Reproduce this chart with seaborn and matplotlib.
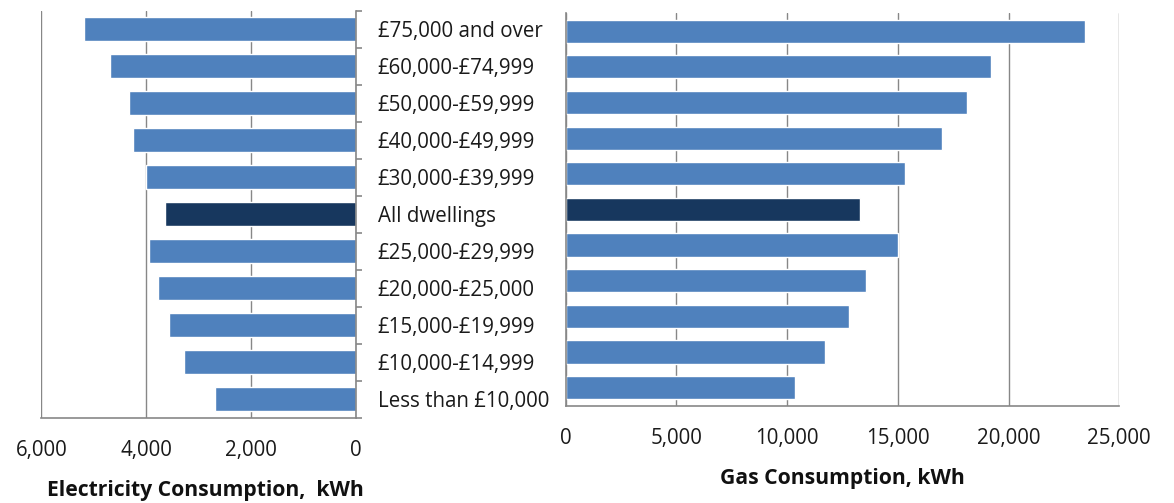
import matplotlib
matplotlib.use("Agg")
import matplotlib.pyplot as plt
from matplotlib.ticker import FixedLocator, StrMethodFormatter
import numpy as np
import pandas as pd
import seaborn as sns

# Household income bands, top to bottom
bands = [
    "£75,000 and over",
    "£60,000-£74,999",
    "£50,000-£59,999",
    "£40,000-£49,999",
    "£30,000-£39,999",
    "All dwellings",
    "£25,000-£29,999",
    "£20,000-£25,000",
    "£15,000-£19,999",
    "£10,000-£14,999",
    "Less than £10,000",
]

# Mean annual consumption per dwelling, kWh
electricity_kwh = [5190, 4690, 4330, 4250, 4000, 3640, 3950, 3780, 3570, 3280, 2690]
gas_kwh = [23460, 19220, 18120, 17010, 15330, 13290, 15000, 13560, 12800, 11720, 10360]

elec_ticks = [6000, 4000, 2000, 0]
gas_ticks = [0, 5000, 10000, 15000, 20000, 25000]

BAR = "#4F81BD"
HIGHLIGHT = "#17375E"
GRID = "#878787"
TEXT = "#1a1a1a"
TICK_FS = 14.8
LABEL_FS = 15.2

sns.set_theme(style="white")
plt.rcParams["font.family"] = ["Open Sans", "DejaVu Sans"]

df = pd.DataFrame({"band": bands, "electricity": electricity_kwh, "gas": gas_kwh})
palette = {b: (HIGHLIGHT if b == "All dwellings" else BAR) for b in bands}

W, H = 1174, 503
fig = plt.figure(figsize=(W / 100, H / 100), dpi=100)

# axes rectangles in pixel terms: (left, top, right, bottom)
def px_axes(l, t, r, b):
    return fig.add_axes([l / W, 1 - b / H, (r - l) / W, (b - t) / H])

ax_e = px_axes(41.3, 10.7, 356.3, 417.7)
ax_g = px_axes(565.7, 13.3, 1119.3, 405.5)

n = len(bands)
for ax, col in ((ax_e, "electricity"), (ax_g, "gas")):
    sns.barplot(data=df, x=col, y="band", hue="band", palette=palette,
                legend=False, ax=ax, width=0.65, saturation=1, orient="h")
    ax.set_ylim(n - 0.5, -0.5)
    ax.set_ylabel("")
    ax.grid(axis="x", color=GRID, linewidth=1.0)
    ax.grid(axis="y", visible=False)
    ax.set_axisbelow(True)
    ax.xaxis.set_major_formatter(StrMethodFormatter("{x:,.0f}"))
    ax.tick_params(axis="x", which="major", direction="out", length=5.5,
                   width=1.0, color=GRID, labelsize=TICK_FS, pad=10.5,
                   labelcolor=TEXT)
    # category boundaries carry the tick marks, centres carry the labels
    ax.yaxis.set_minor_locator(FixedLocator(np.arange(-0.5, n, 1.0)))
    ax.tick_params(axis="y", which="minor", direction="out", length=4.5,
                   width=1.2, color=GRID)
    for s in ax.spines.values():
        s.set_color(GRID)
        s.set_linewidth(1.2)

# Electricity: bars grow leftwards, labels on the right-hand axis
ax_e.set_xlim(6000, 0)
ax_e.xaxis.set_major_locator(FixedLocator(elec_ticks))
ax_e.spines["left"].set_visible(False)
ax_e.spines["top"].set_visible(False)
ax_e.yaxis.tick_right()
ax_e.tick_params(axis="y", which="major", length=0, pad=15.5,
                 labelsize=TICK_FS, labelcolor=TEXT)
ax_e.set_xlabel("Electricity Consumption,  kWh", fontsize=LABEL_FS,
                fontweight="bold", labelpad=14, color="#111111")
ax_e.xaxis.label.set_x(0.52)

# Gas: bars grow rightwards, no category labels
ax_g.set_xlim(0, 25000)
ax_g.xaxis.set_major_locator(FixedLocator(gas_ticks))
ax_g.spines["right"].set_visible(False)
ax_g.spines["top"].set_visible(False)
ax_g.tick_params(axis="y", which="major", length=0, labelleft=False)
ax_g.set_xlabel("Gas Consumption, kWh", fontsize=LABEL_FS, fontweight="bold",
                labelpad=14, color="#111111")

fig.savefig("out.png", dpi=100, facecolor="white")
